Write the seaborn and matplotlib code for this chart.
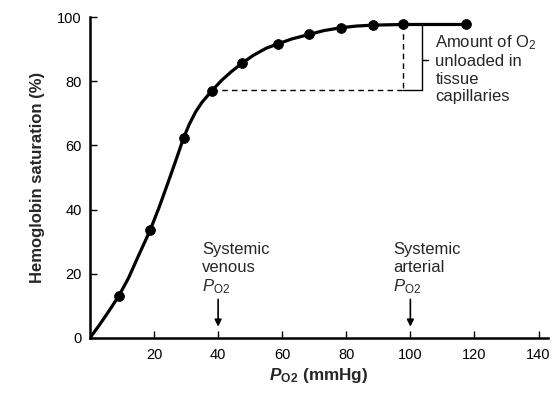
import matplotlib
matplotlib.use("Agg")
import matplotlib.pyplot as plt
import seaborn as sns
import pandas as pd

# Data
point_po2 = [9, 18.75, 29.2, 38, 47.4, 58.8, 68.4, 78.4, 88.3, 97.6, 117.5]
point_sat = [13.1, 33.5, 62.3, 77, 85.6, 91.7, 94.6, 96.7, 97.5, 97.7, 97.7]

curve_po2 = [0, 3, 6, 9, 12, 15, 18.75, 21.5, 24.5, 27, 29.2, 31, 33, 35, 38,
             41, 44, 47.4, 51, 55, 58.8, 63, 68.4, 73, 78.4, 83, 88.3, 97.6, 117.5]
curve_sat = [0, 4.1, 8.5, 13.1, 18.6, 25.3, 33.5, 40.5, 48.8, 55.9, 62.3, 66.6,
             70.5, 73.5, 77, 80.2, 82.9, 85.6, 88.1, 90.3, 91.7, 93.2, 94.6, 95.8,
             96.7, 97.2, 97.5, 97.7, 97.7]

x_ticks = [20, 40, 60, 80, 100, 120, 140]
y_ticks = [0, 20, 40, 60, 80, 100]

venous_po2 = 40
arterial_po2 = 100
venous_sat = 77.2
arterial_sat = 97.7
dash_x = 97.6
bracket_x = 103.75

sns.set_theme(style="ticks")
plt.rcParams['font.family'] = ['Liberation Sans', 'DejaVu Sans']
plt.rcParams['mathtext.fontset'] = 'custom'
plt.rcParams['mathtext.rm'] = 'Liberation Sans'
plt.rcParams['mathtext.it'] = 'Liberation Sans:italic'
plt.rcParams['mathtext.bf'] = 'Liberation Sans:bold'
plt.rcParams['mathtext.bfit'] = 'Liberation Sans:italic:bold'

fig = plt.figure(figsize=(5.52, 3.98), dpi=100)
ax = fig.add_axes([0.163, 0.151, 0.83, 0.806])

curve_df = pd.DataFrame({"po2": curve_po2, "sat": curve_sat})
pts_df = pd.DataFrame({"po2": point_po2, "sat": point_sat})

sns.lineplot(data=curve_df, x="po2", y="sat", ax=ax, color="black", lw=2.3,
             sort=False, estimator=None)
sns.scatterplot(data=pts_df, x="po2", y="sat", ax=ax, color="black", s=50,
                edgecolor="black", zorder=5)

# dashed guide lines
ax.plot([point_po2[3], dash_x], [venous_sat, venous_sat], ls=(0, (4, 3)), color="black", lw=1)
ax.plot([dash_x, dash_x], [arterial_sat, venous_sat], ls=(0, (4, 3)), color="black", lw=1)
# bracket
ax.plot([dash_x, bracket_x, bracket_x], [venous_sat, venous_sat, arterial_sat], color="black", lw=1)
ax.plot([bracket_x, 105.6], [86.5, 86.5], color="black", lw=1)

fs = 12
amount_lines = ["Amount of O$_2$", "unloaded in", "tissue", "capillaries"]
amount_y = [90.6, 84.9, 79.2, 73.8]
for txt, yv in zip(amount_lines, amount_y):
    ax.text(107.8, yv, txt, fontsize=fs, va="baseline", ha="left")

po2_txt = r"$P_{\mathrm{O}}{}_{\mathrm{2}}$"
for x0, word in ((34.9, "venous"), (94.7, "arterial")):
    ax.text(x0, 26.3, "Systemic", fontsize=fs, va="baseline", ha="left")
    ax.text(x0, 20.4, word, fontsize=fs, va="baseline", ha="left")
    ax.text(x0, 14.6, po2_txt, fontsize=fs, va="baseline", ha="left")

for xv in (venous_po2, arterial_po2):
    ax.annotate("", xy=(xv, 3.5), xytext=(xv, 12.0),
                arrowprops=dict(arrowstyle="-|>", color="black", lw=1.2,
                                mutation_scale=10, shrinkA=0, shrinkB=0))

ax.set_xlim(0, 143)
ax.set_ylim(0, 100)
ax.set_xticks(x_ticks)
ax.set_yticks(y_ticks)
ax.tick_params(direction="in", length=5, width=1, labelsize=10.5, color="black",
               labelcolor="black")
ax.tick_params(axis="x", pad=7)
ax.tick_params(axis="y", pad=6)
for s in ("top", "right"):
    ax.spines[s].set_visible(False)
for s in ("left", "bottom"):
    ax.spines[s].set_linewidth(1.8)
    ax.spines[s].set_color("black")

ax.set_ylabel("Hemoglobin saturation (%)", fontsize=12, fontweight="bold", labelpad=9)
ax.set_xlabel(r"$\mathbfit{P}_{\mathbf{O}}{}_{\mathbf{2}}$ (mmHg)", fontsize=12.3,
              fontweight="bold", labelpad=3)

fig.savefig("out.png", dpi=100)
